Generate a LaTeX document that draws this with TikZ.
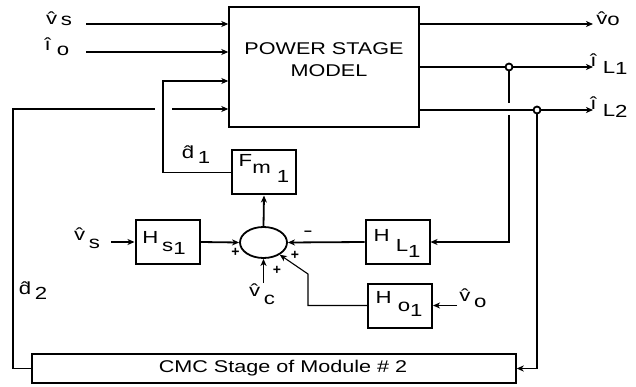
\documentclass[tikz,border=0pt]{standalone}
\usepackage{fontspec}
\setmainfont{Liberation Sans}
\usepackage{graphicx}
\usetikzlibrary{arrows.meta,shapes.geometric}
\newcommand\sx[1]{\scalebox{1.27}[1]{#1}}
\newcommand\dn[2]{\raisebox{-#1pt}{#2}}
\begin{document}
\begin{tikzpicture}[x=1pt,y=-1pt,
  thk/.style={line width=1.8pt},
  thn/.style={line width=1.1pt},
  arr/.style={-{Stealth[length=7pt,width=6pt,inset=2pt]}},
  blk/.style={draw,line width=2pt,minimum width=64pt,minimum height=44pt,inner sep=0pt},
  lbl/.style={font=\fontsize{17.5}{17.5}\selectfont,inner sep=0pt},
  big/.style={font=\fontsize{17}{17}\selectfont,inner sep=0pt},
  sgn/.style={font=\fontsize{14}{14}\selectfont\bfseries,inner sep=0pt}]
\useasboundingbox (0,0) rectangle (636,387);
% blocks
\node[draw,line width=1.4pt,minimum width=190pt,minimum height=120pt,inner sep=0pt] (ps) at (324,67) {};
\node[big] (pst1) at (324,49) {\sx{POWER STAGE}};
\node[big] (pst2) at (329,71) {\sx{MODEL}};
\node[blk] (fm) at (264,172.5) {};
\node[lbl] (fmt) at (264,168) {\sx{F\dn{7}{m\ \dn{9}{1}}}};
\node[blk] (hs) at (167.5,242) {};
\node[lbl] (hst) at (164,243) {\sx{H\,\dn{8}{s\dn{3}{1}}}};
\node[blk] (hl) at (397.5,242) {};
\node[lbl] (hlt) at (397,243) {\sx{H\ \dn{10}{L\dn{6}{1}}}};
\node[blk] (ho) at (400,305.5) {};
\node[lbl] (hot) at (399,304) {\sx{H\ \dn{8}{o\dn{5}{1}}}};
\node[draw,ellipse,line width=1.8pt,minimum width=47pt,minimum height=31pt,inner sep=0pt] (sum) at (263.5,242.5) {};
\node[draw,line width=1.4pt,minimum width=484pt,minimum height=29pt,inner sep=0pt] (cmc) at (274,368.5) {};
\node[big] (cmct) at (283,368) {\sx{CMC Stage of Module \# 2}};
% coordinates
\coordinate (vsin) at (86,24);
\coordinate (ioin) at (86,52);
\coordinate (d1c) at (163,81);
\coordinate (d2c) at (13,109);
\coordinate (d2g) at (155,109);
\coordinate (d2r) at (172,109);
\coordinate (voout) at (593,24);
\coordinate (iL1o) at (593,67);
\coordinate (iL2o) at (593,110);
\coordinate (j1) at (509,67);
\coordinate (j2) at (537,110);
\coordinate (j1a) at (509,103);
\coordinate (j1b) at (509,115);
\coordinate (vsin2) at (111,242);
\coordinate (vcin) at (263.5,283);
\coordinate (voin) at (457,305.5);
\coordinate (hoa) at (308,305.5);
\coordinate (hob) at (308,274);
% inputs
\draw[thk,arr] (vsin) -- (vsin -| ps.west);
\draw[thk,arr] (ioin) -- (ioin -| ps.west);
\draw[thn,arr] (fm.west) -| (d1c) -- (d1c -| ps.west);
\draw[thk] (cmc.west) -| (d2c) -- (d2g);
\draw[thk,arr] (d2r) -- (d2r -| ps.west);
% outputs
\draw[thk,arr] (voout -| ps.east) -- (voout);
\draw[thk,arr] (iL1o -| ps.east) -- (iL1o);
\draw[thk,arr] (iL2o -| ps.east) -- (iL2o);
\draw[thk] (j1) -- (j1a);
\draw[thk,arr] (j1b) |- (hl.east);
\draw[thk,arr] (j2) |- (cmc.east);
\draw[thk,fill=white] (j1) circle[radius=3.5pt];
\draw[thk,fill=white] (j2) circle[radius=3.5pt];
% loop
\draw[thk,arr] (vsin2) -- (hs.west);
\draw[thk,arr] (hs.east) -- (sum.west);
\draw[thk,arr] (hl.west) -- (sum.east);
\draw[thk,arr] (sum.north) -- (fm.south);
\draw[thk,arr] (vcin) -- (sum.south);
\draw[thk,arr] (voin) -- (ho.east);
\draw[thn,arr] (ho.west) -- (hoa) -- (hob) -- (sum.-37);
% signs
\node[sgn] (s1) at (235.5,252) {+};
\node[sgn] (s2) at (277,270) {+};
\node[sgn] (s3) at (295,255) {+};
\node[sgn] (s4) at (308,233) {--};
% labels
\node[lbl] (lvs) at (59,19) {\sx{\^{v}\,\dn{1}{s}}};
\node[lbl] (lio) at (57,47) {\sx{\^{\i}\ \dn{5}{o}}};
\node[lbl] (lvo) at (608,19) {\sx{\^{v}\dn{1}{o}}};
\node[lbl] (liL1) at (609,64) {\sx{\^{\i}\ \dn{7}{L\dn{1}{1}}}};
\node[lbl] (liL2) at (609,107) {\sx{\^{\i}\ \dn{7}{L\dn{1}{2}}}};
\node[lbl] (ld1) at (196,155) {\sx{\^{d}\,\dn{5}{1}}};
\node[lbl] (ld2) at (33,291) {\sx{\^{d}\,\dn{5}{2}}};
\node[lbl] (lvs2) at (87,238) {\sx{\^{v}\,\dn{8}{s}}};
\node[lbl] (lvc) at (262,294) {\sx{\^{v}\,\dn{8}{c}}};
\node[lbl] (lvo2) at (473,298) {\sx{\^{v}\,\dn{6}{o}}};
\end{tikzpicture}
\end{document}
